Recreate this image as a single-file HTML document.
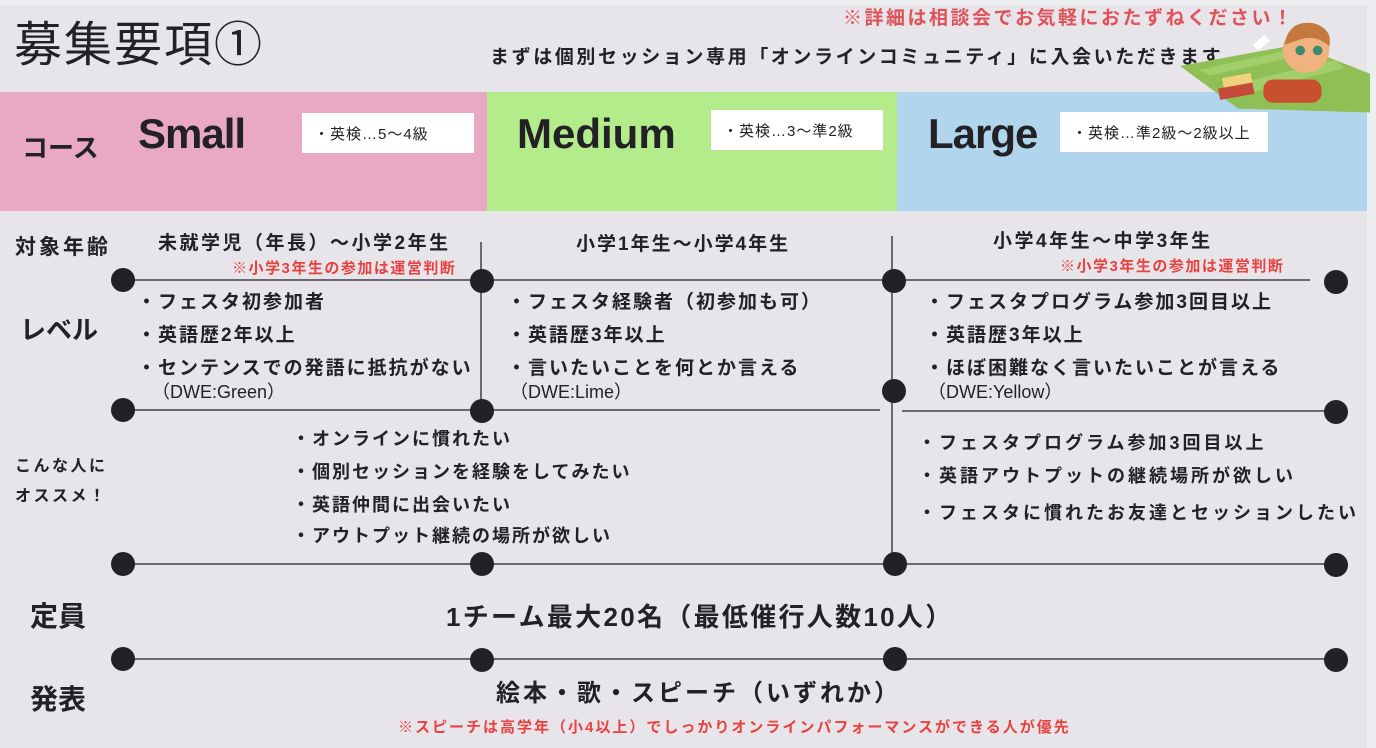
<!DOCTYPE html>
<html><head><meta charset="utf-8"><style>
*{margin:0;padding:0;box-sizing:border-box}
body{width:1376px;height:748px;background:#e7e5ea;font-family:"Liberation Sans","Noto Sans CJK JP",sans-serif;color:#222126;position:relative;overflow:hidden}
.a{position:absolute;white-space:nowrap;line-height:1}
.b{font-weight:bold}
.red{color:#e8413f}
.band{position:absolute;top:92px;height:119px}
.box{position:absolute;background:#fff;font-size:15px;padding-left:12px;display:flex;align-items:center;letter-spacing:1px}
.course{font-family:"Liberation Sans Narrow","Liberation Sans",sans-serif;font-weight:bold;font-size:42px;letter-spacing:-1px}
.lv{font-size:19px;font-weight:bold;letter-spacing:2px}
.rc{font-size:18px;font-weight:bold;letter-spacing:2px}
.rc3{font-size:18px;font-weight:bold;letter-spacing:3px}
</style></head><body>
<div style="position:absolute;left:0;top:0;width:1376px;height:5px;background:#eceef0"></div>
<div style="position:absolute;left:1367px;top:0;width:9px;height:748px;background:#eceef0"></div>
<div class="a" style="left:14px;top:22px;font-size:48px;letter-spacing:2px">募集要項①</div>
<div class="a b" style="left:843px;top:9px;font-size:19px;color:#e0525a;letter-spacing:2.5px">※詳細は相談会でお気軽におたずねください！</div>
<div class="a b" style="left:490px;top:48px;font-size:19px;letter-spacing:2.6px">まずは個別セッション専用「オンラインコミュニティ」に入会いただきます</div>

<div class="band" style="left:0;width:487px;background:#eaa9c3"></div>
<div class="band" style="left:487px;width:410px;background:#b4ec8c"></div>
<div class="band" style="left:897px;width:470px;background:#b0d5ec"></div>

<svg style="position:absolute;left:1180px;top:14px" width="190" height="100" viewBox="0 0 196 100">
<polygon points="0,52 120,30 196,60 196,100 60,96" fill="#8fbf55"/>
<polygon points="20,56 120,34 130,40 30,62" fill="#a3cf6b"/>
<polygon points="60,70 160,46 170,54 70,80" fill="#a3cf6b"/>
<rect x="40" y="72" width="36" height="12" fill="#c44b3a" transform="rotate(-10 58 78)"/>
<rect x="44" y="62" width="30" height="10" fill="#f0d27a" transform="rotate(-10 58 67)"/>
<rect x="86" y="66" width="60" height="24" rx="10" fill="#c9502f"/>
<circle cx="130" cy="35" r="24" fill="#f0b27e"/>
<path d="M108 30 Q112 4 138 8 Q158 14 154 32 Q140 18 120 26 Z" fill="#c47a3e"/>
<circle cx="124" cy="36" r="5" fill="#3e8a6e"/><circle cx="142" cy="36" r="5" fill="#3e8a6e"/>
<rect x="76" y="24" width="16" height="8" fill="#fff" transform="rotate(-40 84 28)"/>
</svg>

<div class="a b" style="left:22px;top:135px;font-size:26px">コース</div>
<div class="a course" style="left:138px;top:113px">Small</div>
<div class="box" style="left:302px;top:113px;width:172px;height:40px">・英検…5～4級</div>
<div class="a course" style="left:517px;top:113px;letter-spacing:0">Medium</div>
<div class="box" style="left:711px;top:110px;width:172px;height:40px">・英検…3～準2級</div>
<div class="a course" style="left:928px;top:113px">Large</div>
<div class="box" style="left:1060px;top:112px;width:208px;height:40px">・英検…準2級～2級以上</div>

<svg style="position:absolute;left:0;top:0" width="1376" height="748">
<g stroke="#6a6970" stroke-width="2" fill="none">
<line x1="123" y1="280" x2="1310" y2="280"/>
<line x1="481" y1="242" x2="481" y2="412"/>
<line x1="892" y1="236" x2="892" y2="564"/>
<line x1="123" y1="410" x2="880" y2="410"/>
<line x1="902" y1="411" x2="1336" y2="411"/>
<line x1="123" y1="564" x2="1336" y2="564"/>
<line x1="123" y1="659" x2="1336" y2="659"/>
</g>
<g fill="#232127">
<circle cx="123" cy="280" r="12"/><circle cx="482" cy="281" r="12"/><circle cx="894" cy="281" r="12"/><circle cx="1336" cy="282" r="12"/>
<circle cx="123" cy="410" r="12"/><circle cx="482" cy="411" r="12"/><circle cx="894" cy="391" r="12"/><circle cx="1336" cy="412" r="12"/>
<circle cx="123" cy="564" r="12"/><circle cx="482" cy="564" r="12"/><circle cx="895" cy="564" r="12"/><circle cx="1336" cy="565" r="12"/>
<circle cx="123" cy="659" r="12"/><circle cx="482" cy="660" r="12"/><circle cx="895" cy="659" r="12"/><circle cx="1336" cy="660" r="12"/>
</g></svg>

<div class="a b" style="left:15px;top:237px;font-size:21px;letter-spacing:3px">対象年齢</div>
<div class="a b" style="left:20px;top:317px;font-size:26px">レベル</div>
<div class="a b" style="left:15px;top:459px;font-size:16px;letter-spacing:2.5px">こんな人に</div>
<div class="a b" style="left:15px;top:489px;font-size:16px;letter-spacing:2.5px">オススメ！</div>
<div class="a b" style="left:30px;top:603px;font-size:28px">定員</div>
<div class="a b" style="left:30px;top:686px;font-size:28px">発表</div>

<div class="a b" style="left:158px;top:234px;font-size:19px;letter-spacing:2.5px">未就学児（年長）～小学2年生</div>
<div class="a b red" style="left:232px;top:261px;font-size:15px;letter-spacing:1.5px">※小学3年生の参加は運営判断</div>
<div class="a b" style="left:576px;top:235px;font-size:19px;letter-spacing:2px">小学1年生～小学4年生</div>
<div class="a b" style="left:993px;top:232px;font-size:19px;letter-spacing:2.5px">小学4年生～中学3年生</div>
<div class="a b red" style="left:1060px;top:259px;font-size:15px;letter-spacing:1.5px">※小学3年生の参加は運営判断</div>

<div class="a lv" style="left:137px;top:293px">・フェスタ初参加者</div>
<div class="a lv" style="left:137px;top:326px">・英語歴2年以上</div>
<div class="a lv" style="left:137px;top:359px">・センテンスでの発語に抵抗がない</div>
<div class="a" style="left:152px;top:383px;font-size:18px">（DWE:Green）</div>

<div class="a lv" style="left:507px;top:293px">・フェスタ経験者（初参加も可）</div>
<div class="a lv" style="left:507px;top:326px">・英語歴3年以上</div>
<div class="a lv" style="left:507px;top:359px">・言いたいことを何とか言える</div>
<div class="a" style="left:510px;top:383px;font-size:18px">（DWE:Lime）</div>

<div class="a lv" style="left:925px;top:293px">・フェスタプログラム参加3回目以上</div>
<div class="a lv" style="left:925px;top:326px">・英語歴3年以上</div>
<div class="a lv" style="left:925px;top:359px">・ほぼ困難なく言いたいことが言える</div>
<div class="a" style="left:928px;top:383px;font-size:18px">（DWE:Yellow）</div>

<div class="a rc" style="left:292px;top:430px">・オンラインに慣れたい</div>
<div class="a rc" style="left:292px;top:463px">・個別セッションを経験をしてみたい</div>
<div class="a rc" style="left:292px;top:496px">・英語仲間に出会いたい</div>
<div class="a rc" style="left:292px;top:527px">・アウトプット継続の場所が欲しい</div>

<div class="a rc3" style="left:918px;top:434px">・フェスタプログラム参加3回目以上</div>
<div class="a rc3" style="left:918px;top:467px">・英語アウトプットの継続場所が欲しい</div>
<div class="a rc3" style="left:918px;top:504px">・フェスタに慣れたお友達とセッションしたい</div>

<div class="a b" style="left:446px;top:604px;font-size:26px;letter-spacing:2.3px">1チーム最大20名（最低催行人数10人）</div>
<div class="a b" style="left:496px;top:682px;font-size:24px;letter-spacing:3px">絵本・歌・スピーチ（いずれか）</div>
<div class="a b red" style="left:398px;top:720px;font-size:15px;letter-spacing:2px">※スピーチは高学年（小4以上）でしっかりオンラインパフォーマンスができる人が優先</div>
</body></html>
